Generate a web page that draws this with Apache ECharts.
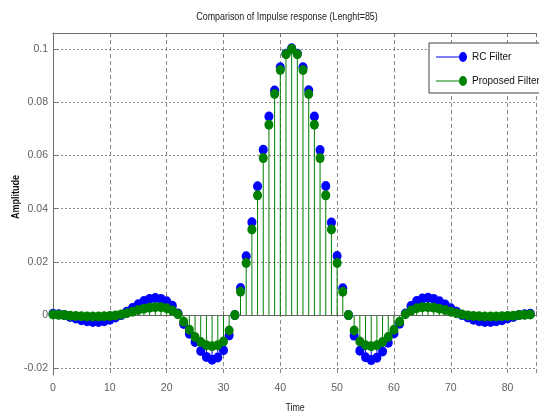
<!DOCTYPE html>
<html>
<head>
<meta charset="utf-8">
<script src="https://cdn.jsdelivr.net/npm/echarts@6/dist/echarts.min.js"></script>
<style>html,body{margin:0;padding:0;background:#fff}#c{width:539px;height:414px}</style>
</head>
<body>
<div id="c"></div>
<script>
const FONT = "'Liberation Sans','Arial',sans-serif";
const titleText = 'Comparison of Impulse response (Lenght=85)';
const xName = 'Time';
const yName = 'Amplitude';
const seriesNames = ['RC Filter', 'Proposed Filter'];
const xTicks = [0, 10, 20, 30, 40, 50, 60, 70, 80];
const yTicks = [-0.02, 0, 0.02, 0.04, 0.06, 0.08, 0.1];

const rcFilter = [
  0.0005, 0.0003, 0.0, -0.0007, -0.0013, -0.0019, -0.0023, -0.0026, -0.0026, -0.0023,
  -0.0017, -0.0009, 0.0, 0.0013, 0.0027, 0.0041, 0.0053, 0.0061, 0.0064, 0.0061,
  0.0052, 0.0035, 0.0006, -0.0033, -0.0070, -0.0101, -0.0135, -0.0157, -0.0168, -0.0159,
  -0.0132, -0.0076, 0.0, 0.0102, 0.0221, 0.0349, 0.0484, 0.0621, 0.0746, 0.0844,
  0.0931, 0.0982, 0.1003, 0.0982, 0.0931, 0.0845, 0.0746, 0.0620, 0.0485, 0.0348,
  0.0222, 0.0101, 0.0, -0.0077, -0.0134, -0.0158, -0.0169, -0.0160, -0.0137, -0.0104,
  -0.0069, -0.0032, 0.0006, 0.0034, 0.0053, 0.0062, 0.0065, 0.0061, 0.0052, 0.0040,
  0.0026, 0.0013, 0.0, -0.0009, -0.0017, -0.0023, -0.0026, -0.0026, -0.0023, -0.0019,
  -0.0013, -0.0007, 0.0, 0.0003, 0.0005
];
const proposedFilter = [
  0.0002, 0.0001, 0.0, -0.0002, -0.0003, -0.0004, -0.0005, -0.0005, -0.0005, -0.0004,
  -0.0003, -0.0001, 0.0002, 0.0007, 0.0013, 0.0019, 0.0024, 0.0028, 0.0030, 0.0030,
  0.0026, 0.0017, 0.0003, -0.0025, -0.0055, -0.0082, -0.0101, -0.0113, -0.0117, -0.0113,
  -0.0099, -0.0058, 0.0, 0.0088, 0.0196, 0.0322, 0.0450, 0.0590, 0.0715, 0.0831,
  0.0921, 0.0980, 0.1000, 0.0980, 0.0921, 0.0831, 0.0715, 0.0590, 0.0450, 0.0322,
  0.0196, 0.0088, 0.0, -0.0058, -0.0099, -0.0113, -0.0117, -0.0113, -0.0101, -0.0082,
  -0.0055, -0.0025, 0.0003, 0.0017, 0.0026, 0.0030, 0.0030, 0.0028, 0.0024, 0.0019,
  0.0013, 0.0007, 0.0002, -0.0001, -0.0003, -0.0004, -0.0005, -0.0005, -0.0005, -0.0004,
  -0.0003, -0.0002, 0.0, 0.0001, 0.0002
];

const BLUE = '#0000ff', GREEN = '#008000', AXIS = '#707070', GRIDC = '#8a8a8a';
const toPairs = arr => arr.map((v, i) => [i, v]);

// stem from base value (column 2) to value (column 1); the green stems cover the blue ones,
// so the blue stem is only drawn where it reaches beyond the green one
function stemRenderer(color) {
  return function (params, api) {
    const x = api.value(0), y = api.value(1), b = api.value(2);
    const p0 = api.coord([x, b]);
    const p1 = api.coord([x, y]);
    return { type: 'line', shape: { x1: p0[0], y1: p0[1], x2: p1[0], y2: p1[1] },
      style: { stroke: color, lineWidth: 1 } };
  };
}
const blueStemData = rcFilter.map((v, i) => [i, v, proposedFilter[i]]);
const greenStemData = proposedFilter.map((v, i) => [i, v, 0]);
const legendIcon = 'path://M0,4.5 H23 V5.5 H0 Z M23,5 A4,5 0 1 0 31,5 A4,5 0 1 0 23,5 Z';

const chart = echarts.init(document.getElementById('c'), null, { renderer: 'canvas' });
chart.setOption({
  animation: false,
  backgroundColor: '#fff',
  textStyle: { fontFamily: FONT },
  grid: { left: 53, right: -12, top: 33, bottom: 39, containLabel: false },
  xAxis: [{
    type: 'value', min: 0, max: 85, interval: 10, position: 'bottom',
    axisLine: { show: true, lineStyle: { color: AXIS, width: 1 } },
    axisTick: { show: true, inside: true, length: 4, lineStyle: { color: AXIS } },
    axisLabel: { color: '#606060', fontSize: 10.5, fontFamily: FONT, margin: 8,
      formatter: v => (xTicks.indexOf(v) >= 0 ? String(v) : '') },
    splitLine: { show: true, lineStyle: { color: GRIDC, type: [4, 3], width: 1 } }
  }, {
    type: 'value', min: 0, max: 85, interval: 10, position: 'top',
    axisLine: { show: true, onZero: false, lineStyle: { color: AXIS, width: 1 } },
    axisTick: { show: true, inside: true, length: 4, lineStyle: { color: AXIS } },
    axisLabel: { show: false }, splitLine: { show: false }
  }],
  yAxis: [{
    type: 'value', min: -0.0225, max: 0.106,
    axisLine: { show: true, lineStyle: { color: AXIS, width: 1 } },
    axisTick: { show: true, inside: true, length: 4, customValues: yTicks, lineStyle: { color: AXIS } },
    axisLabel: { color: '#606060', fontSize: 10.5, fontFamily: FONT, margin: 5, customValues: yTicks,
      formatter: v => String(parseFloat(Number(v).toFixed(4))) },
    splitLine: { show: true, lineStyle: { color: GRIDC, type: [2, 2], width: 1 } }
  }],
  legend: {
    orient: 'vertical', left: 429, top: 43,
    data: seriesNames,
    icon: legendIcon, itemWidth: 31, itemHeight: 10, itemGap: 14,
    padding: [9, 12, 7, 7],
    borderColor: '#404040', borderWidth: 1, backgroundColor: '#fff',
    textStyle: { color: '#111', fontSize: 10, fontFamily: FONT, lineHeight: 10 },
    z: 20
  },
  graphic: [
    { type: 'text', x: 287, y: 17, scaleX: 0.81, z: 10, style: { text: titleText, align: 'center', verticalAlign: 'middle', fill: '#222', font: '11px ' + FONT } },
    { type: 'text', x: 295, y: 408, scaleX: 0.8, z: 10, style: { text: xName, align: 'center', verticalAlign: 'middle', fill: '#222', font: '11px ' + FONT } },
    { type: 'text', x: 16, y: 197, rotation: Math.PI / 2, scaleX: 0.82, z: 10, style: { text: yName, align: 'center', verticalAlign: 'middle', fill: '#111', font: 'bold 11px ' + FONT } }
  ],
  series: [
    { name: 'rc-stems', type: 'custom', renderItem: stemRenderer(BLUE), data: blueStemData, z: 2, silent: true,
      markLine: { silent: true, symbol: 'none', label: { show: false }, lineStyle: { color: '#666', type: 'solid', width: 1 }, data: [{ yAxis: 0 }] } },
    { name: seriesNames[0], type: 'scatter', data: toPairs(rcFilter), symbol: 'circle', symbolSize: [9, 10],
      itemStyle: { color: BLUE, opacity: 1 }, z: 3 },
    { name: 'pf-stems', type: 'custom', renderItem: stemRenderer(GREEN), data: greenStemData, z: 4, silent: true },
    { name: seriesNames[1], type: 'scatter', data: toPairs(proposedFilter), symbol: 'circle', symbolSize: [9, 10],
      itemStyle: { color: GREEN, opacity: 1 }, z: 5 }
  ]
});
</script>
</body>
</html>
